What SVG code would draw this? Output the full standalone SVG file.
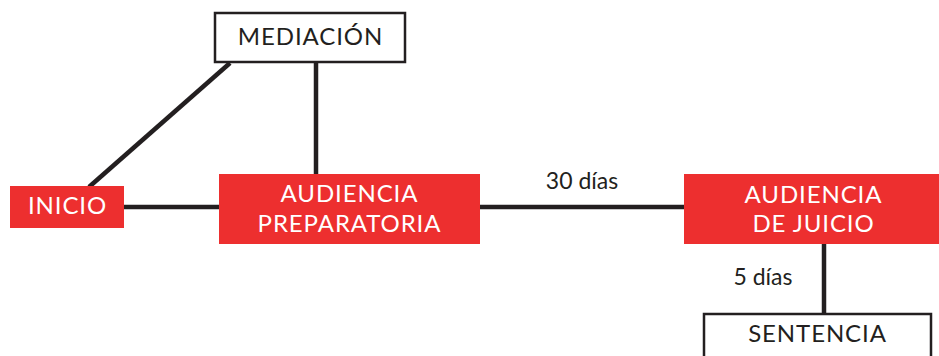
<svg xmlns="http://www.w3.org/2000/svg" width="939" height="356" viewBox="0 0 939 356">
<style>
.red{fill:#ed2f2f;}
.white{fill:#fff;stroke:#231f20;stroke-width:2.5;}
.conn{stroke:#231f20;stroke-width:4.5;fill:none;}
text{font-family:Lato,"Open Sans","Liberation Sans",sans-serif;font-size:23px;text-anchor:middle;}
.cap{font-size:24px;letter-spacing:0.9px;}
.lw{fill:#fff;}
.ld{fill:#231f20;}
</style>
<rect width="939" height="356" fill="#fff"/>
<g id="connectors">
<line class="conn" x1="230" y1="63" x2="89" y2="187"/>
<line class="conn" x1="316" y1="62" x2="316" y2="175"/>
<line class="conn" x1="124" y1="207" x2="220" y2="207"/>
<line class="conn" x1="480" y1="207" x2="685" y2="207"/>
<line class="conn" x1="824" y1="243" x2="824" y2="314"/>
<text class="ld" x="582" y="189">30 días</text>
<text class="ld" x="763" y="285">5 días</text>
</g>
<g id="mediacion">
<rect class="white" x="215" y="13" width="190" height="49"/>
<text class="ld cap" x="310.5" y="45">MEDIACIÓN</text>
</g>
<g id="inicio">
<rect class="red" x="10" y="186" width="114" height="42"/>
<text class="lw cap" x="67.5" y="214">INICIO</text>
</g>
<g id="audiencia-preparatoria">
<rect class="red" x="219" y="174" width="261" height="70"/>
<text class="lw cap" x="349.5" y="202">AUDIENCIA</text>
<text class="lw cap" x="349.5" y="232">PREPARATORIA</text>
</g>
<g id="audiencia-juicio">
<rect class="red" x="684" y="174" width="260" height="70"/>
<text class="lw cap" x="813.5" y="203">AUDIENCIA</text>
<text class="lw cap" x="813.5" y="232">DE JUICIO</text>
</g>
<g id="sentencia">
<rect class="white" x="704" y="314" width="227" height="60"/>
<text class="ld cap" x="817.5" y="342">SENTENCIA</text>
</g>
</svg>
